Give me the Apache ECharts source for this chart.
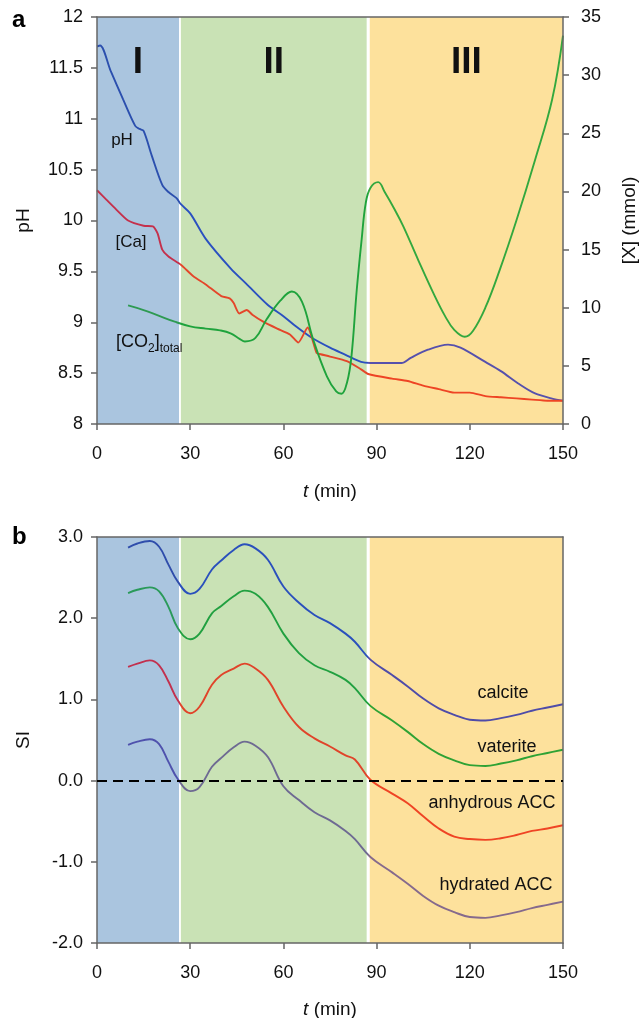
<!DOCTYPE html>
<html>
<head>
<meta charset="utf-8">
<script src="https://cdn.jsdelivr.net/npm/echarts@6/dist/echarts.min.js"></script>
<style>
  html, body { margin: 0; padding: 0; background: #fff; }
  #chart { width: 644px; height: 1018px; }
</style>
</head>
<body>
<div id="chart"></div>
<script>
// ---- panel a: pH, [Ca], [CO2]total vs time ----
const tPH = [0, 1, 4.4, 8.4, 12.3, 13.7, 15, 17.6, 21, 23, 25.6, 27, 30, 35, 43, 48, 55, 60, 64, 69, 75, 80, 85, 88, 98, 101, 106.5, 113, 117, 125, 130, 136, 141, 146.5, 150]
const pH = [11.71, 11.72, 11.47, 11.19, 10.93, 10.9, 10.88, 10.64, 10.35, 10.28, 10.22, 10.16, 10.07, 9.82, 9.53, 9.38, 9.17, 9.06, 8.96, 8.85, 8.75, 8.68, 8.61, 8.6, 8.6, 8.65, 8.73, 8.78, 8.75, 8.61, 8.52, 8.39, 8.3, 8.25, 8.23]

const tCa = [0, 3, 6, 10, 15, 18, 19.5, 21, 23, 27, 31, 35, 40, 42.7, 44, 45.8, 48.2, 50, 53.5, 58, 62.1, 64.8, 67.8, 70.7, 72, 75, 80.4, 85, 87.3, 95, 100, 105, 110, 115, 120, 125, 130, 135, 140, 145, 150]
const ca = [20.1, 19.3, 18.5, 17.5, 17.05, 17.0, 16.4, 15.0, 14.4, 13.7, 12.7, 12.0, 11.0, 10.8, 10.4, 9.5, 9.8, 9.4, 8.8, 8.2, 7.7, 7.0, 8.3, 6.1, 6.0, 5.8, 5.4, 4.7, 4.3, 3.9, 3.7, 3.3, 3.0, 2.7, 2.7, 2.4, 2.3, 2.2, 2.1, 2.0, 2.0]

const tCO2 = [10, 15, 20, 25, 30, 35, 39.6, 43, 46, 47.6, 51, 54.6, 59, 62.7, 66, 69.6, 74, 77, 78.7, 80.5, 81.9, 83.6, 85.2, 86.5, 88, 90.5, 92.7, 95.9, 98.6, 103.4, 108.2, 112, 115, 118.4, 121, 125, 129.7, 135, 141, 146.5, 150]
const co2 = [10.2, 9.8, 9.3, 8.8, 8.4, 8.2, 8.05, 7.8, 7.3, 7.1, 7.4, 9.0, 10.6, 11.4, 10.5, 7.25, 4.1, 2.8, 2.6, 3.6, 5.8, 11.5, 15.9, 19.0, 20.3, 20.8, 19.9, 18.4, 17.0, 14.1, 11.3, 9.3, 8.1, 7.5, 8.0, 10.0, 13.3, 17.5, 22.7, 27.9, 33.4]

// ---- panel b: saturation indices ----
const tSI = [10, 13, 17, 20, 23, 26, 30, 33, 37, 40, 44, 47.5, 51, 55, 60, 65, 70, 75, 80, 83, 88, 95, 100, 105, 110, 115, 120, 125, 130, 135, 140, 145, 150]
const calcite = [2.87, 2.92, 2.95, 2.88, 2.66, 2.45, 2.30, 2.36, 2.60, 2.71, 2.84, 2.91, 2.86, 2.72, 2.39, 2.19, 2.04, 1.94, 1.81, 1.71, 1.49, 1.30, 1.16, 1.01, 0.89, 0.81, 0.75, 0.74, 0.77, 0.81, 0.86, 0.90, 0.94]
const vaterite = [2.31, 2.35, 2.38, 2.33, 2.14, 1.88, 1.74, 1.81, 2.06, 2.15, 2.27, 2.34, 2.30, 2.14, 1.81, 1.57, 1.42, 1.34, 1.24, 1.14, 0.92, 0.74, 0.60, 0.45, 0.33, 0.25, 0.19, 0.18, 0.21, 0.25, 0.30, 0.34, 0.38]
const anhydrousACC = [1.40, 1.44, 1.48, 1.42, 1.22, 0.99, 0.83, 0.91, 1.18, 1.30, 1.38, 1.44, 1.38, 1.24, 0.91, 0.66, 0.52, 0.42, 0.31, 0.26, 0.01, -0.16, -0.28, -0.44, -0.59, -0.69, -0.72, -0.73, -0.71, -0.67, -0.62, -0.59, -0.55]
const hydratedACC = [0.44, 0.48, 0.51, 0.45, 0.23, 0.02, -0.13, -0.08, 0.17, 0.28, 0.41, 0.48, 0.43, 0.29, -0.07, -0.24, -0.39, -0.49, -0.62, -0.72, -0.94, -1.13, -1.27, -1.42, -1.54, -1.62, -1.68, -1.69, -1.66, -1.62, -1.57, -1.53, -1.49]

// stage boundaries (min) and labels
const stages = [
  { name: 'I', from: 0, to: 26.4, color: '#aac5df' },
  { name: 'II', from: 27.0, to: 86.8, color: '#c9e2b5' },
  { name: 'III', from: 87.8, to: 150, color: '#fde19c' },
]
const stageSplit = [26.7, 87.3]

const FONT = 'Liberation Sans, Arial, sans-serif'
const AXIS = '#666'
const TXT = '#111'
const TICK_FONT = 18

const zip = (xs, ys) => xs.map((x, i) => [x, ys[i]])

const bandData = (withLabel) => stages.map(s => [
  { name: withLabel ? s.name : '', xAxis: s.from, itemStyle: { color: s.color } },
  { xAxis: s.to },
])

const valueAxis = (extra) => Object.assign({
  type: 'value',
  z: 4,
  axisLine: { show: true, onZero: false, lineStyle: { color: AXIS, width: 1.5 } },
  axisTick: { show: true, inside: false, length: 6, lineStyle: { color: AXIS, width: 1.5 } },
  axisLabel: { fontSize: TICK_FONT, color: TXT, fontFamily: FONT },
  splitLine: { show: false },
  nameTextStyle: { fontSize: 19, color: TXT, fontFamily: FONT },
}, extra)

const frameAxis = (extra) => Object.assign({
  type: 'value',
  z: 4,
  axisLine: { show: true, onZero: false, lineStyle: { color: AXIS, width: 1.5 } },
  axisTick: { show: false },
  axisLabel: { show: false },
  splitLine: { show: false },
}, extra)

const timeName = (gap) => ({
  name: '{i|t} (min)',
  nameLocation: 'middle',
  nameGap: gap,
  nameTextStyle: { fontSize: 19, color: TXT, fontFamily: FONT, rich: { i: { fontStyle: 'italic', fontSize: 19, fontFamily: FONT, color: TXT } } },
})

const regionColors = (seriesIndex, cols) => ({
  type: 'piecewise',
  show: false,
  dimension: 0,
  seriesIndex,
  pieces: [
    { lt: stageSplit[0], color: cols[0] },
    { gte: stageSplit[0], lt: stageSplit[1], color: cols[1] },
    { gte: stageSplit[1], color: cols[2] },
  ],
})

const lineSeries = (xi, yi, data, smooth) => ({
  type: 'line',
  xAxisIndex: xi,
  yAxisIndex: yi,
  data,
  smooth,
  symbol: 'none',
  lineStyle: { width: 1.9 },
  z: 3,
  silent: true,
})

const tickLabel = (margin, extra) => Object.assign({ fontSize: TICK_FONT, color: TXT, fontFamily: FONT, margin }, extra)

const chart = echarts.init(document.getElementById('chart'), null, { renderer: 'canvas' })

const option = {
  animation: false,
  backgroundColor: '#fff',
  grid: [
    { left: 97, right: 81, top: 17, height: 407, containLabel: false, outerBoundsMode: 'none' },
    { left: 97, right: 81, top: 537, height: 406, containLabel: false, outerBoundsMode: 'none' },
  ],
  xAxis: [
    valueAxis(Object.assign({ gridIndex: 0, min: 0, max: 150, interval: 30, axisLabel: tickLabel(21) }, timeName(58))),
    frameAxis({ gridIndex: 0, position: 'top', min: 0, max: 150 }),
    valueAxis(Object.assign({ gridIndex: 1, min: 0, max: 150, interval: 30, axisLabel: tickLabel(21) }, timeName(57))),
    frameAxis({ gridIndex: 1, position: 'top', min: 0, max: 150 }),
  ],
  yAxis: [
    valueAxis({ gridIndex: 0, position: 'left', min: 8, max: 12, interval: 0.5, name: 'pH', nameLocation: 'middle', nameGap: 64, nameRotate: 90,
      axisLabel: tickLabel(14) }),
    valueAxis({ gridIndex: 0, position: 'right', min: 0, max: 35, interval: 5, name: '[X] (mmol)', nameLocation: 'middle', nameGap: 57, nameRotate: 90,
      axisLabel: tickLabel(18) }),
    valueAxis({ gridIndex: 1, position: 'left', min: -2, max: 3, interval: 1, name: 'SI', nameLocation: 'middle', nameGap: 64, nameRotate: 90,
      axisLabel: tickLabel(14, { formatter: v => v.toFixed(1) }) }),
    frameAxis({ gridIndex: 1, position: 'right', min: -2, max: 3 }),
  ],
  visualMap: [
    regionColors(1, ['#2b4fae', '#2a50c0', '#5650ac']),
    regionColors(2, ['#c4304c', '#e4462a', '#ee4424']),
    regionColors(3, ['#2e9a52', '#1fa33c', '#33a83e']),
    regionColors(5, ['#2f4dab', '#2a50bc', '#4f4ca8']),
    regionColors(6, ['#2a9a5a', '#21a040', '#2fa234']),
    regionColors(7, ['#c2304e', '#e0442a', '#ef4424']),
    regionColors(8, ['#4f52ad', '#6e6a92', '#866a8c']),
  ],
  series: [
    {
      type: 'line', xAxisIndex: 0, yAxisIndex: 0, data: [], z: 1, silent: true,
      markArea: {
        silent: true,
        label: { show: true, position: 'insideTop', distance: 27, fontSize: 37, fontWeight: 'bold', color: TXT, fontFamily: FONT },
        data: bandData(true),
      },
    },
    lineSeries(0, 0, zip(tPH, pH), 0.3),
    lineSeries(0, 1, zip(tCa, ca), 0.2),
    lineSeries(0, 1, zip(tCO2, co2), 0.4),
    {
      type: 'line', xAxisIndex: 2, yAxisIndex: 2, data: [], z: 1, silent: true,
      markArea: { silent: true, label: { show: false }, data: bandData(false) },
    },
    lineSeries(2, 2, zip(tSI, calcite), 0.4),
    lineSeries(2, 2, zip(tSI, vaterite), 0.4),
    lineSeries(2, 2, zip(tSI, anhydrousACC), 0.4),
    lineSeries(2, 2, zip(tSI, hydratedACC), 0.4),
    {
      type: 'line', xAxisIndex: 2, yAxisIndex: 2, data: [], z: 5, silent: true,
      markLine: {
        silent: true, symbol: 'none', label: { show: false },
        lineStyle: { type: [10, 6], color: '#000', width: 2 },
        data: [{ yAxis: 0 }],
      },
    },
  ],
  graphic: [
    { type: 'text', x: 12, y: 20, style: { text: 'a', font: 'bold 24px ' + FONT, fill: '#000', textVerticalAlign: 'middle' } },
    { type: 'text', x: 12, y: 537, style: { text: 'b', font: 'bold 24px ' + FONT, fill: '#000', textVerticalAlign: 'middle' } },
    { type: 'text', x: 122, y: 140, z: 10, style: { text: 'pH', font: '17px ' + FONT, fill: TXT, textAlign: 'center', textVerticalAlign: 'middle' } },
    { type: 'text', x: 131, y: 242, z: 10, style: { text: '[Ca]', font: '17px ' + FONT, fill: TXT, textAlign: 'center', textVerticalAlign: 'middle' } },
    { type: 'text', x: 116, y: 342, z: 10, style: {
      text: '[CO{s|2}]{s|total}', fontSize: 18, fontFamily: FONT, fill: TXT, lineHeight: 26, textVerticalAlign: 'middle',
      rich: { s: { fontSize: 12, fontFamily: FONT, fill: TXT, verticalAlign: 'bottom' } } } },
    { type: 'text', x: 503, y: 693, z: 10, style: { text: 'calcite', font: '18px ' + FONT, fill: TXT, textAlign: 'center', textVerticalAlign: 'middle' } },
    { type: 'text', x: 507, y: 747, z: 10, style: { text: 'vaterite', font: '18px ' + FONT, fill: TXT, textAlign: 'center', textVerticalAlign: 'middle' } },
    { type: 'text', x: 492, y: 803, z: 10, style: { text: 'anhydrous ACC', font: '18px ' + FONT, fill: TXT, textAlign: 'center', textVerticalAlign: 'middle' } },
    { type: 'text', x: 496, y: 885, z: 10, style: { text: 'hydrated ACC', font: '18px ' + FONT, fill: TXT, textAlign: 'center', textVerticalAlign: 'middle' } },
  ],
}

chart.setOption(option)
window.addEventListener('resize', () => chart.resize())
</script>
</body>
</html>
